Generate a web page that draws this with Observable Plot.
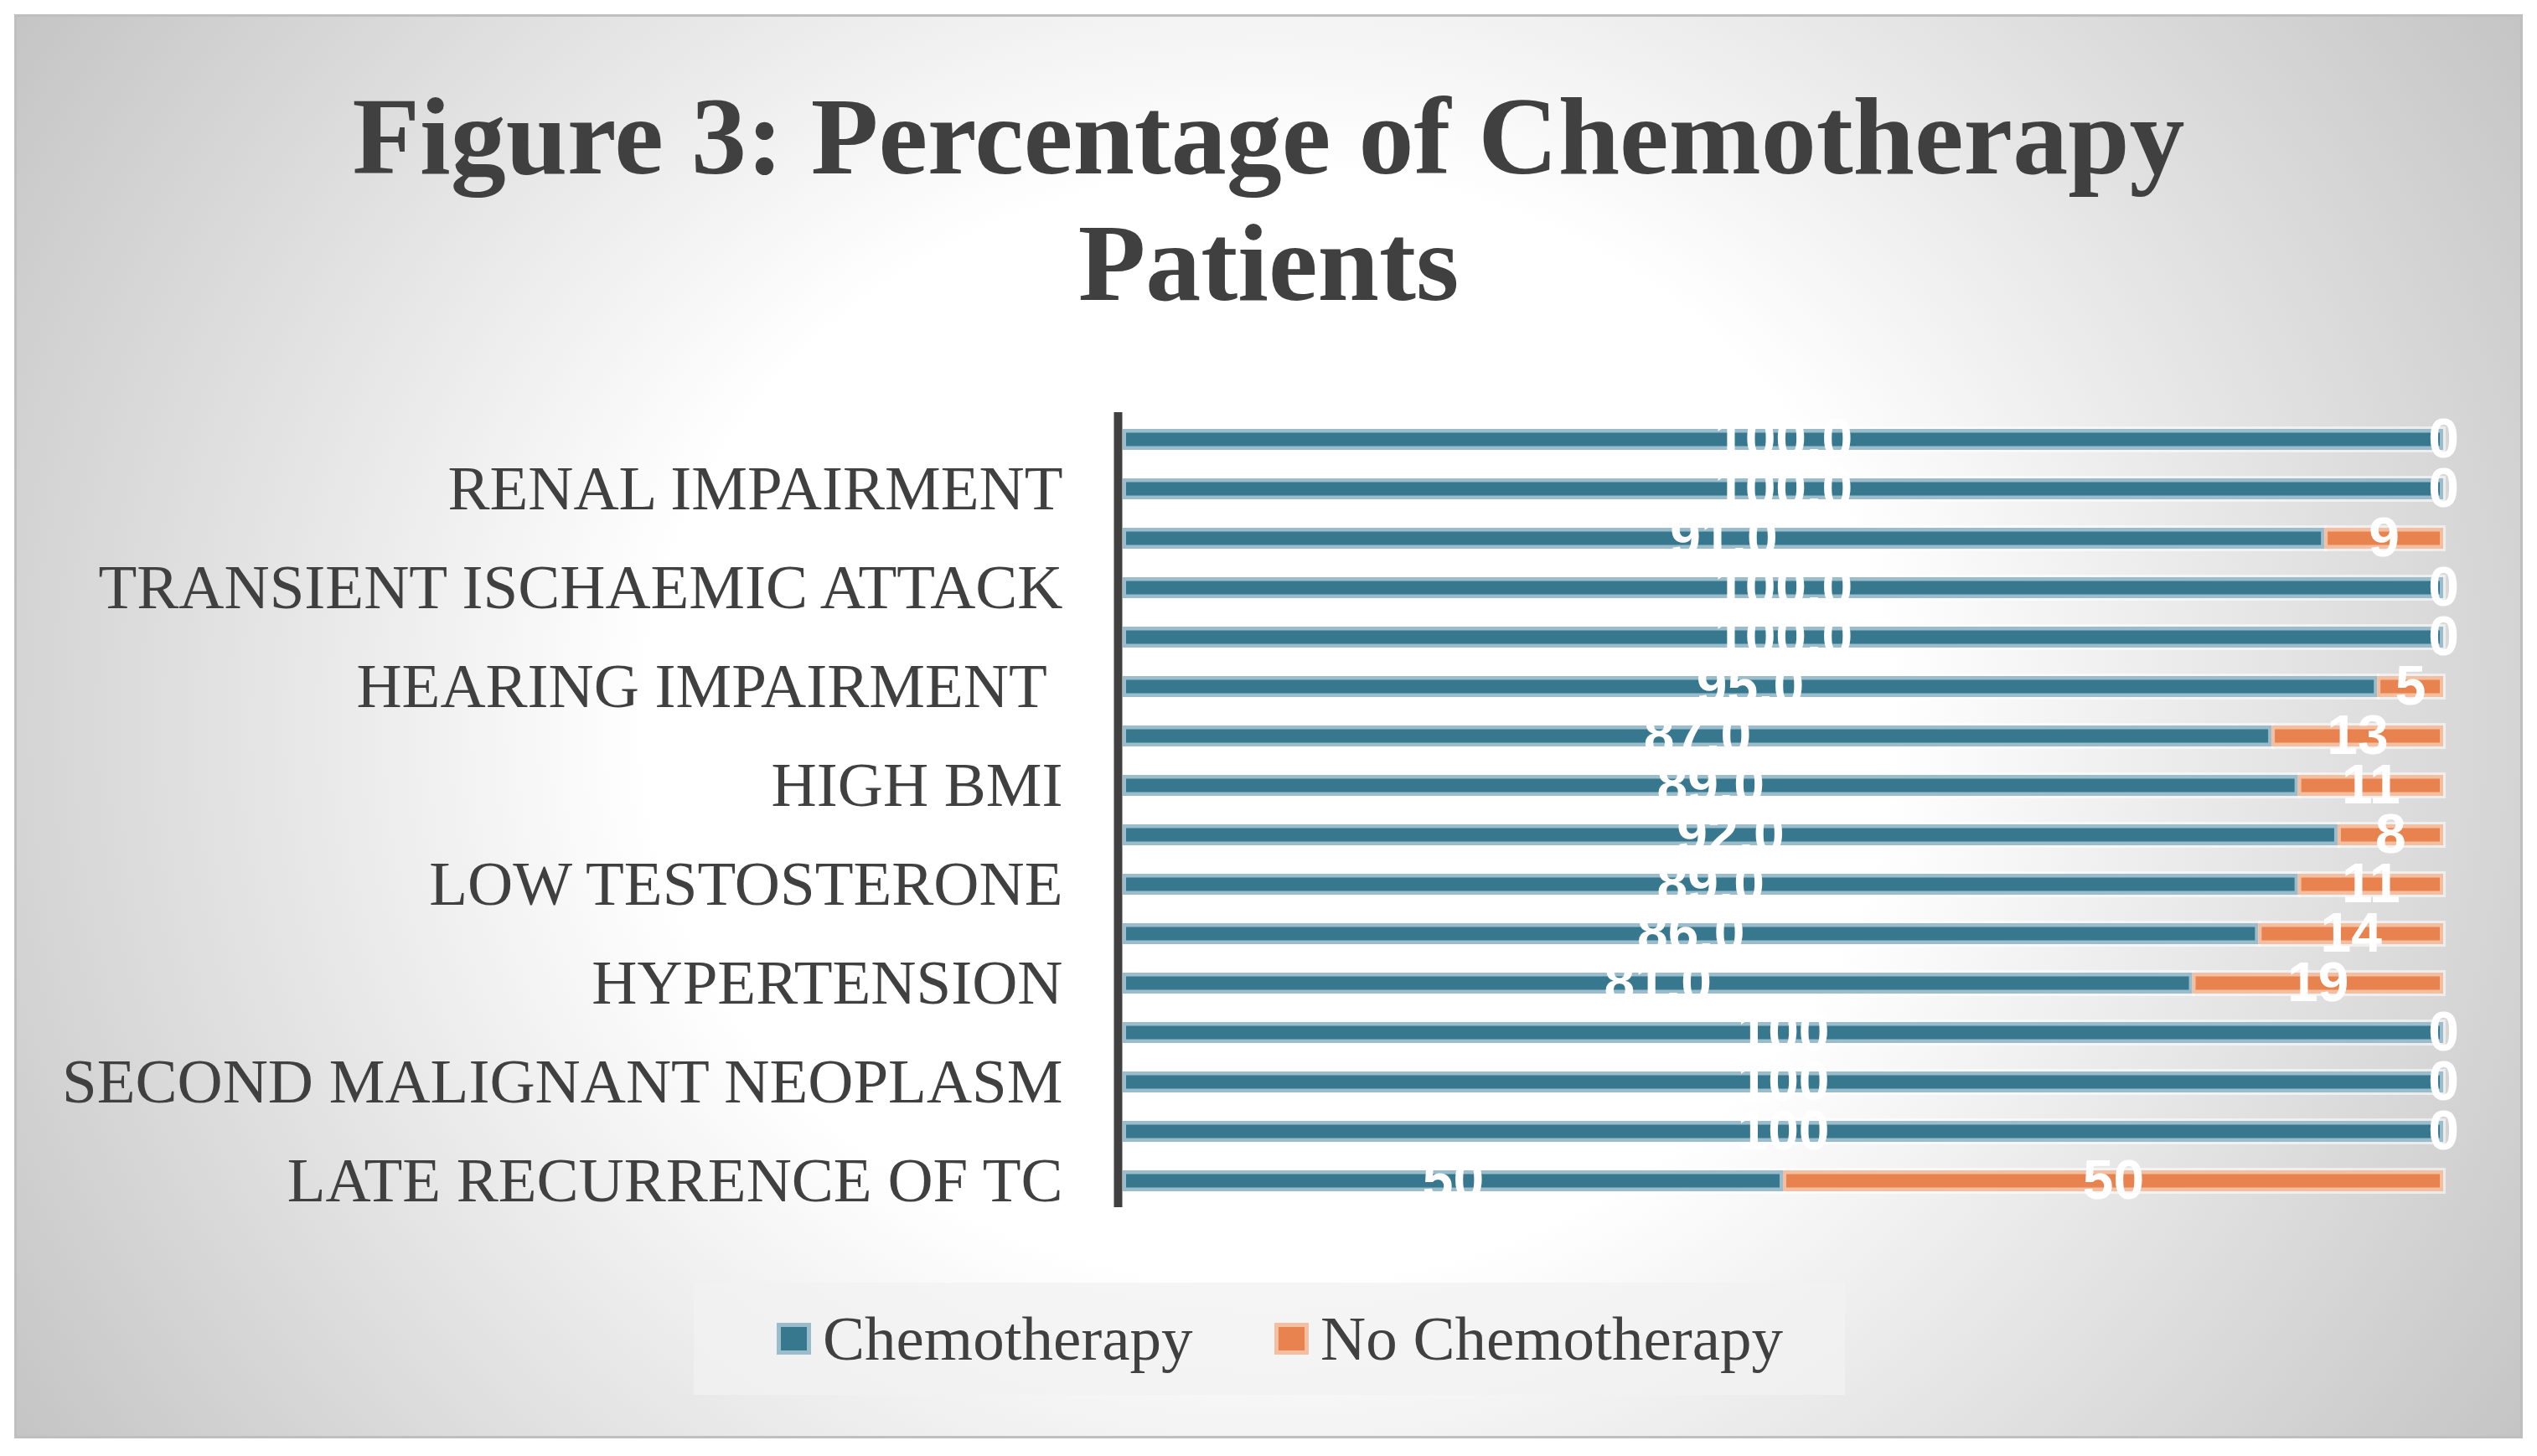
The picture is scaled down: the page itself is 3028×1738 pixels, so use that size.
<!DOCTYPE html>
<html>
<head>
<meta charset="utf-8">
<script src="https://cdn.jsdelivr.net/npm/d3@7"></script>
<script src="https://cdn.jsdelivr.net/npm/@observablehq/plot@0.6"></script>
<style>
  html, body { margin: 0; padding: 0; background: #ffffff; }
  body { width: 3028px; height: 1738px; position: relative; overflow: hidden; }
  #panel {
    position: absolute; left: 17px; top: 17px; width: 2988px; height: 1694px;
    border: 3px solid #bfbfbf;
    background: radial-gradient(ellipse 1850px 1650px at 50% 50%, #ffffff 40%, #c0c0c0 100%);
  }
  #title {
    position: absolute; left: 0; top: 87px; width: 3028px; text-align: center;
    font-family: "Liberation Serif", "Times New Roman", serif; font-weight: bold;
    font-size: 132px; line-height: 151px; color: #404040;
  }
  #chart { position: absolute; left: 0; top: 462px; }
  #legend {
    position: absolute; left: 828px; top: 1531px; width: 1374px; height: 134px;
    background: rgba(242,242,242,0.75);
  }
  .item { position: absolute; top: 0; height: 134px; display: flex; align-items: center; }
  .sw { width: 41px; height: 38px; box-sizing: border-box; border: 5px solid; margin-right: 14px; }
  .lt { font-family: "Liberation Serif", "Times New Roman", serif; font-size: 75px; color: #404040; white-space: nowrap; }
</style>
</head>
<body>
<div id="panel"></div>
<div id="title">Figure 3: Percentage of Chemotherapy<br>Patients</div>
<div id="chart"></div>
<div id="legend"></div>
<script>
// ---- data (top to bottom) ----
const categories = [
  "", "RENAL IMPAIRMENT",
  "", "TRANSIENT ISCHAEMIC ATTACK",
  "", "HEARING IMPAIRMENT\u00A0",
  "", "HIGH BMI",
  "", "LOW TESTOSTERONE",
  "", "HYPERTENSION",
  "", "SECOND MALIGNANT NEOPLASM",
  "", "LATE RECURRENCE OF TC"
];
const chemo   = [100, 100, 91, 100, 100, 95, 87, 89, 92, 89, 86, 81, 100, 100, 100, 50];
const noChemo = [0, 0, 9, 0, 0, 5, 13, 11, 8, 11, 14, 19, 0, 0, 0, 50];
const chemoDecimals = [1, 1, 1, 1, 1, 1, 1, 1, 1, 1, 1, 1, 0, 0, 0, 0];
const seriesNames = ["Chemotherapy", "No Chemotherapy"];

const dark  = {"Chemotherapy": "#37788f", "No Chemotherapy": "#e8834f"};
const light = {"Chemotherapy": "#9bbcca", "No Chemotherapy": "#f4bea1"};

const rows = categories.flatMap((c, i) => [
  {i, series: seriesNames[0], value: chemo[i], label: chemo[i].toFixed(chemoDecimals[i])},
  {i, series: seriesNames[1], value: noChemo[i], label: String(noChemo[i])}
]);

const stackOpts = (extra) => Plot.stackX({x: "value", y: "i", ...extra});

const chart = Plot.plot({
  width: 3028,
  height: 1009,
  marginLeft: 1340,
  marginRight: 112,
  marginTop: 30,
  marginBottom: 30,
  style: {background: "transparent", overflow: "visible", color: "#404040"},
  x: {domain: [0, 100], axis: null},
  y: {domain: d3.range(categories.length), paddingInner: 0.58, paddingOuter: 0.29, axis: null},
  color: {type: "identity"},
  marks: [
    Plot.axisY({
      label: null,
      tickSize: 0, tickPadding: 72,
      tickFormat: (i) => categories[i],
      fontSize: 75, fontFamily: "Liberation Serif"
    }),
    Plot.barX(rows, stackOpts({filter: (d) => d.value > 0, fill: "#ffffff", fillOpacity: 0.55,
      insetTop: -3, insetBottom: -3, insetRight: -3})),
    Plot.barX(rows, stackOpts({filter: (d) => d.value > 0, fill: (d) => light[d.series]})),
    Plot.barX(rows, stackOpts({filter: (d) => d.value > 0, fill: (d) => dark[d.series],
      insetTop: 4.5, insetBottom: 4.5, insetLeft: 4, insetRight: 4})),
    Plot.ruleX([0], {stroke: "#404040", strokeWidth: 10, dx: -6}),
    Plot.text(rows, stackOpts({text: "label", fill: "#ffffff", fontSize: 66,
      fontFamily: "Liberation Sans", fontWeight: "bold"}))
  ]
});
document.getElementById("chart").appendChild(chart);

// ---- legend ----
const legend = document.getElementById("legend");
const legendLeft = [99, 693];
seriesNames.forEach((s, k) => {
  const it = document.createElement("div");
  it.className = "item";
  it.style.left = legendLeft[k] + "px";
  const sw = document.createElement("div");
  sw.className = "sw";
  sw.style.background = dark[s];
  sw.style.borderColor = light[s];
  const t = document.createElement("span");
  t.className = "lt";
  t.textContent = s;
  it.appendChild(sw);
  it.appendChild(t);
  legend.appendChild(it);
});
</script>
</body>
</html>
